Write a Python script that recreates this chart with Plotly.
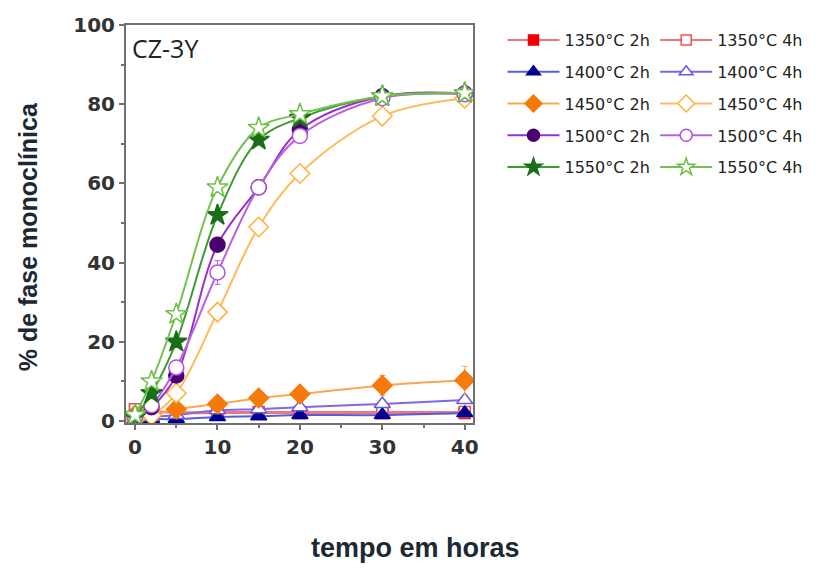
import plotly.graph_objects as go

# ---- data ----
tempo = [0, 2, 5, 10, 15, 20, 30, 40]

s1350_2h = [3.0, 2.5, 2.0, 2.0, 2.0, 2.0, 2.0, 2.0]
s1350_4h = [3.0, 2.5, 2.2, 2.3, 2.3, 2.3, 2.3, 2.3]
s1400_2h = [0.5, 0.5, 0.5, 1.0, 1.2, 1.5, 1.5, 2.0]
s1400_4h = [1.0, 1.0, 1.5, 2.7, 3.0, 3.5, 4.3, 5.3]
s1450_2h = [1.5, 1.5, 3.0, 4.3, 5.8, 6.8, 9.0, 10.3]
s1450_4h = [0.5, 1.5, 7.0, 27.5, 49.0, 62.5, 77.0, 81.5]
s1500_2h = [1.0, 3.5, 11.5, 44.5, 59.0, 73.5, 82.0, 82.7]
s1500_4h = [1.0, 4.0, 13.5, 37.5, 59.0, 72.0, 81.5, 82.5]
s1550_2h = [1.0, 7.0, 20.0, 52.0, 71.0, 76.5, 82.0, 82.8]
s1550_4h = [1.5, 10.0, 27.0, 59.0, 74.0, 77.5, 82.0, 82.8]

err_1450_2h = [0, 0, 0, 0, 0, 0, 2.5, 3.5]
err_1450_4h = [0, 0, 1.5, 1.0, 1.0, 1.0, 1.0, 1.5]
err_1500_4h = [0, 0, 1.0, 3.0, 1.0, 1.0, 0.5, 0.5]
err_none = [0, 0, 0, 0, 0, 0, 0, 0]

names_2h = ["1350°C 2h", "1400°C 2h", "1450°C 2h", "1500°C 2h", "1550°C 2h"]
names_4h = ["1350°C 4h", "1400°C 4h", "1450°C 4h", "1500°C 4h", "1550°C 4h"]

series = [
    # name, y, err, symbol, size, legend size, marker fill, marker line, line color, legend
    (names_2h[0], s1350_2h, err_none, "square", 11, 10, "#ee0000", "#ee0000", "#f07878", "legend"),
    (names_4h[0], s1350_4h, err_none, "square", 11, 10, "white", "#f05050", "#f07878", "legend2"),
    (names_2h[1], s1400_2h, err_none, "triangle-up", 14, 12, "#000090", "#000090", "#5a5ae0", "legend"),
    (names_4h[1], s1400_4h, err_none, "triangle-up", 14, 12, "white", "#6a5ae0", "#7a6ae8", "legend2"),
    (names_2h[2], s1450_2h, err_1450_2h, "diamond", 15, 13, "#f57a0a", "#f57a0a", "#f7a850", "legend"),
    (names_4h[2], s1450_4h, err_1450_4h, "diamond", 15, 13, "white", "#ffb040", "#ffba5a", "legend2"),
    (names_2h[3], s1500_2h, err_none, "circle", 15, 12, "#4a0070", "#4a0070", "#9a30c8", "legend"),
    (names_4h[3], s1500_4h, err_1500_4h, "circle", 15, 12, "white", "#b050e0", "#b860e0", "legend2"),
    (names_2h[4], s1550_2h, err_none, "star", 16, 13, "#1a6e1a", "#1a6e1a", "#3f9a30", "legend"),
    (names_4h[4], s1550_4h, err_none, "star", 16, 13, "white", "#6cc048", "#74c050", "legend2"),
]

fig = go.Figure()
for nm, yv, ev, sym, sz, lsz, fill, mline, lcol, leg in series:
    fig.add_trace(go.Scatter(
        x=tempo, y=yv, name=nm, mode="lines+markers", showlegend=False,
        line=dict(color=lcol, width=2, shape="spline", smoothing=1.0),
        marker=dict(symbol=sym, size=sz, color=fill,
                    line=dict(color=mline, width=1.5)),
        error_y=dict(type="data", array=ev, visible=True, color=lcol,
                     thickness=1, width=3),
        legendgroup=nm,
    ))
    # legend entry (smaller symbol, as in the original legend)
    fig.add_trace(go.Scatter(
        x=[None], y=[None], name=nm, mode="lines+markers", showlegend=True,
        line=dict(color=lcol, width=2),
        marker=dict(symbol=sym, size=lsz, color=fill,
                    line=dict(color=mline, width=1.5)),
        legend=leg, legendgroup=nm, hoverinfo="skip",
    ))

legend_common = dict(
    font=dict(family="DejaVu Sans", size=16, color="#222222"),
    bgcolor="rgba(0,0,0,0)", traceorder="grouped", tracegroupgap=8,
    itemwidth=52, itemsizing="trace", yanchor="top", xanchor="left",
    itemclick=False,
)

fig.update_layout(
    width=820, height=568,
    margin=dict(l=126, r=347, t=25, b=145),
    paper_bgcolor="white", plot_bgcolor="white",
    showlegend=True,
    legend=dict(x=1.085, y=1.005, **legend_common),
    legend2=dict(x=1.525, y=1.005, **legend_common),
    xaxis=dict(
        range=[-1.1, 41.0], tickvals=[0, 10, 20, 30, 40],
        showgrid=False, zeroline=False,
        showline=True, linecolor="#707070", linewidth=2, mirror=True,
        ticks="outside", ticklen=5, tickcolor="#707070", tickwidth=1.5,
        minor=dict(tickvals=[5, 15, 25, 35], ticks="outside", ticklen=3,
                   tickcolor="#707070"),
        tickfont=dict(family="DejaVu Sans", size=20, color="#333333", weight="bold"),
    ),
    yaxis=dict(
        range=[-0.5, 100], tickvals=[0, 20, 40, 60, 80, 100],
        showgrid=False, zeroline=False,
        showline=True, linecolor="#707070", linewidth=2, mirror=True,
        ticks="outside", ticklen=5, tickcolor="#707070", tickwidth=1.5,
        minor=dict(tickvals=[10, 30, 50, 70, 90], ticks="outside", ticklen=3,
                   tickcolor="#707070"),
        tickfont=dict(family="DejaVu Sans", size=20, color="#333333", weight="bold"),
    ),
    annotations=[
        dict(text="CZ-3Y", xref="paper", yref="paper", x=0.012, y=0.942,
             xanchor="left", yanchor="middle", showarrow=False,
             font=dict(family="Open Sans", size=25, color="#222222")),
        dict(text="% de fase monoclínica", xref="paper", yref="paper",
             x=-0.282, y=0.467, textangle=-90, showarrow=False,
             xanchor="center", yanchor="middle",
             font=dict(family="Liberation Sans", size=25, color="#1c2833", weight="bold")),
        dict(text="tempo em horas", xref="paper", yref="paper",
             x=0.833, y=-0.314, showarrow=False,
             xanchor="center", yanchor="middle",
             font=dict(family="Liberation Sans", size=27, color="#1c2833", weight="bold")),
    ],
)

fig.write_html("out.html")
